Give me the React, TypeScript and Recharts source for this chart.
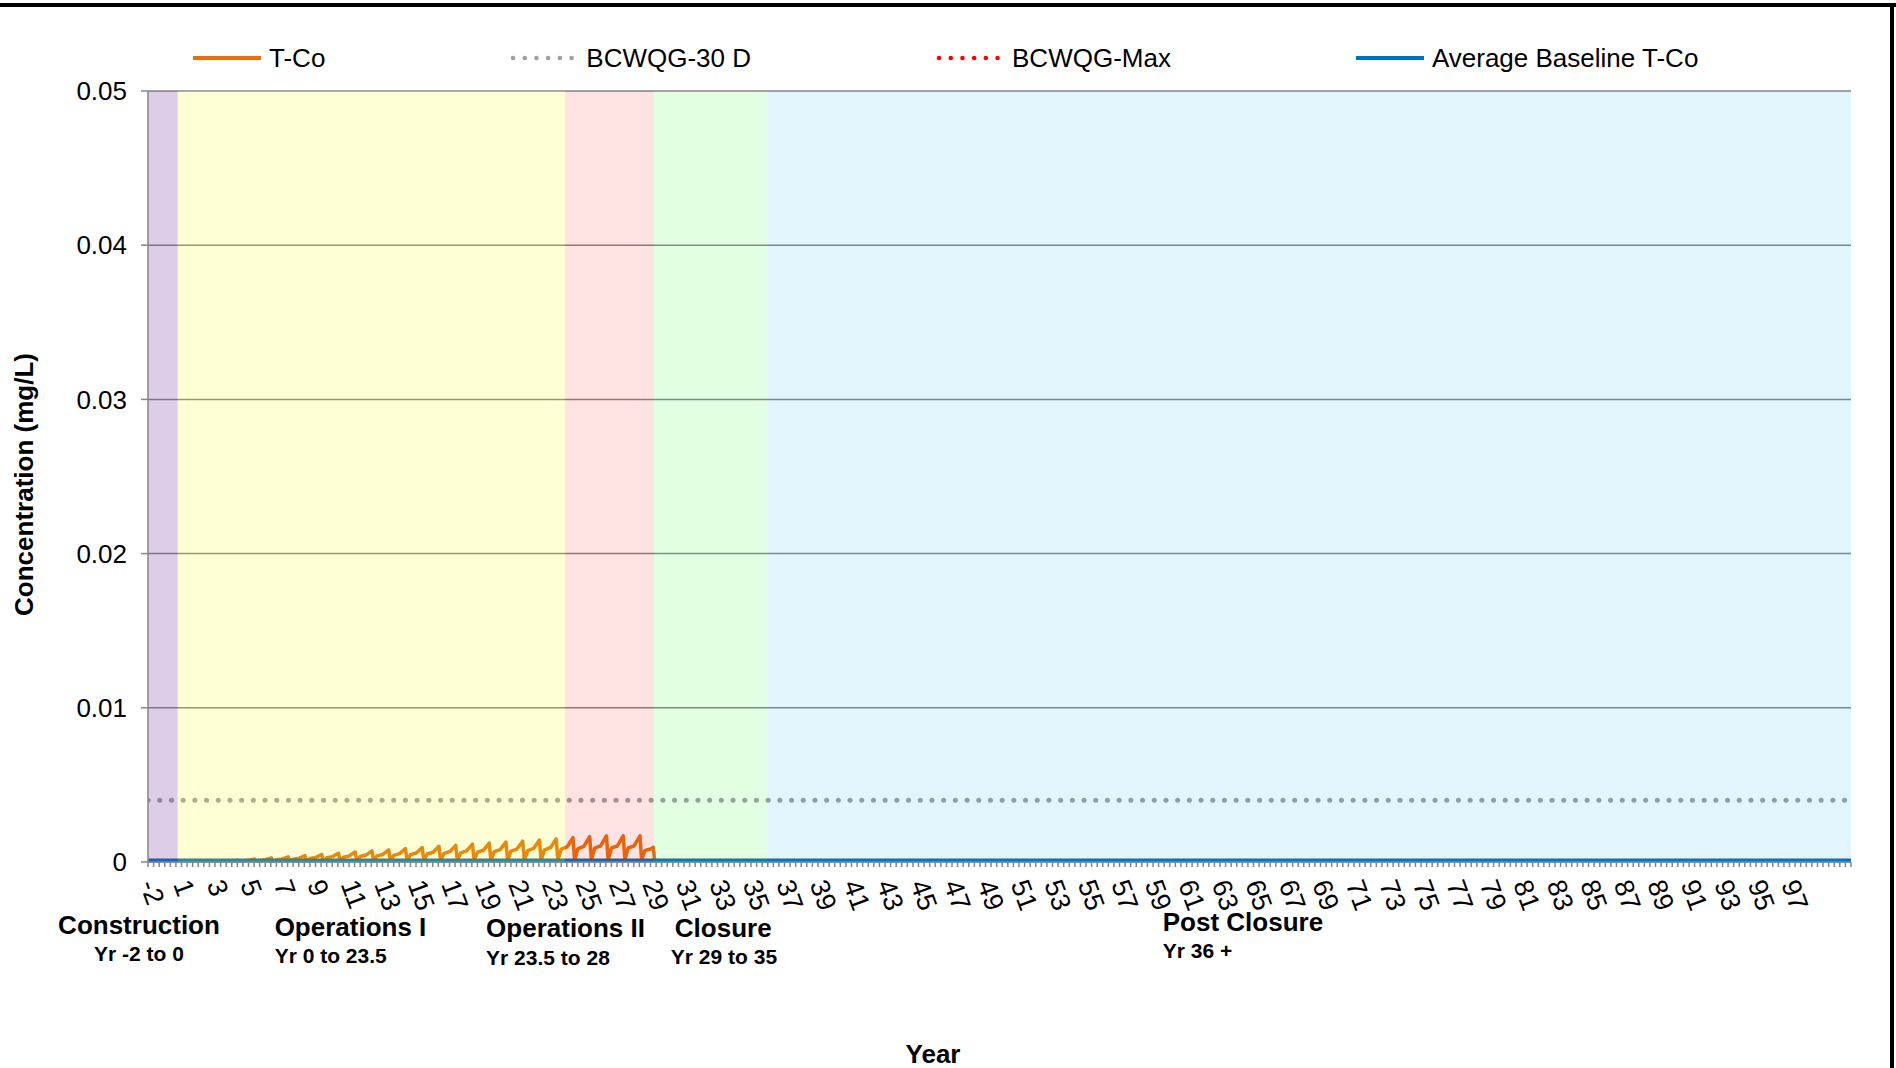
import React from 'react';
import { LineChart, Line, XAxis, YAxis, CartesianGrid, ReferenceArea, Legend } from 'recharts';

const FONT = '"Liberation Sans", Arial, Helvetica, sans-serif';

// ---------------- data ----------------
// x position = years counted from the start of "Yr -2" (the category axis has no year 0)
const xAxisEnd = 101.67;
const yearTickLabels = ['-2', '1', '3', '5', '7', '9', '11', '13', '15', '17', '19', '21', '23', '25', '27', '29', '31', '33', '35', '37', '39', '41', '43', '45', '47', '49', '51', '53', '55', '57', '59', '61', '63', '65', '67', '69', '71', '73', '75', '77', '79', '81', '83', '85', '87', '89', '91', '93', '95', '97'];
const yTicks = [0, 0.01, 0.02, 0.03, 0.04, 0.05];

// T-Co: one seasonal cycle per year (peak, trough, shoulder, plateau)
const cycleYears = [0, 1, 2, 3, 4, 5, 6, 7, 8, 9, 10, 11, 12, 13, 14, 15, 16, 17, 18, 19, 20, 21, 22, 23, 24, 25, 26, 27, 28, 29];
const cycleSampleOffsets = [0.37, 0.47, 0.67, 1.02];
const tcoPeak = [0.00001, 0.00002, 0.00003, 0.00005, 0.00008, 0.00012, 0.00019, 0.00026, 0.00033, 0.00041, 0.00049, 0.00057, 0.00065, 0.00072, 0.00079, 0.00087, 0.00094, 0.00102, 0.00108, 0.00116, 0.00122, 0.00129, 0.00135, 0.00142, 0.0015, 0.00158, 0.00164, 0.00169, 0.0017, 0.0017];
const tcoTrough = [0.00001, 0.00001, 0.00001, 0.00001, 0.00001, 0.00001, 0.00002, 0.00002, 0.00003, 0.00003, 0.00004, 0.00005, 0.00005, 0.00006, 0.00006, 0.00007, 0.00008, 0.00008, 0.00009, 0.00009, 0.0001, 0.0001, 0.00011, 0.00011, 0.00012, 0.00013, 0.00013, 0.00013, 0.00013, 0.00013];
const tcoShoulder = [0.00001, 0.00001, 0.00002, 0.00003, 0.00004, 0.00007, 0.0001, 0.00014, 0.00018, 0.00023, 0.00027, 0.00031, 0.00036, 0.0004, 0.00043, 0.00048, 0.00052, 0.00056, 0.00059, 0.00064, 0.00067, 0.00071, 0.00074, 0.00078, 0.00083, 0.00087, 0.0009, 0.00092, 0.00092, 0.00075];
const tcoPlateau = [0.00001, 0.00002, 0.00003, 0.00005, 0.00007, 0.00012, 0.00016, 0.0002, 0.00025, 0.0003, 0.00035, 0.0004, 0.00045, 0.00049, 0.00054, 0.00058, 0.00063, 0.00067, 0.00072, 0.00076, 0.0008, 0.00084, 0.00088, 0.00093, 0.00098, 0.00101, 0.00104, 0.00104, 0.00104, 0.00085];
const tcoStart = [{ year: 0, tco: 0.00001 }];
const tcoTail = [
  { year: 30.17, tco: 0.00095 },
  { year: 30.25, tco: 0.00006 },
  { year: 101.67, tco: 0.00006 },
];

const bcwqg30dValue = 0.004;
const bcwqgMaxValue = 0.11;
const avgBaselineValue = 0.00005;

const phases = [
  { key: 'construction', title: 'Construction', sub: 'Yr -2 to 0', start: 0, end: 1.77 },
  { key: 'ops1', title: 'Operations I', sub: 'Yr 0 to 23.5', start: 1.77, end: 24.9 },
  { key: 'ops2', title: 'Operations II', sub: 'Yr 23.5 to 28', start: 24.9, end: 30.2 },
  { key: 'closure', title: 'Closure', sub: 'Yr 29 to 35', start: 30.2, end: 37.0 },
  { key: 'post', title: 'Post Closure', sub: 'Yr 36 +', start: 37.0, end: 101.67 },
];

// ---------------- tables built from the arrays ----------------
const tcoRows: { year: number; tco: number }[] = [...tcoStart];
cycleYears.forEach((c, i) => {
  const vals = [tcoPeak[i], tcoTrough[i], tcoShoulder[i], tcoPlateau[i]];
  cycleSampleOffsets.forEach((o, k) => tcoRows.push({ year: +(c + o).toFixed(2), tco: vals[k] }));
});
tcoTail.forEach((r) => tcoRows.push(r));

const bcwqg30dRows = [{ year: 0, bcwqg30d: bcwqg30dValue }, { year: xAxisEnd, bcwqg30d: bcwqg30dValue }];
const bcwqgMaxRows = [{ year: 0, bcwqgMax: bcwqgMaxValue }, { year: xAxisEnd, bcwqgMax: bcwqgMaxValue }];
const avgRows = [{ year: 0, avg: avgBaselineValue }, { year: xAxisEnd, avg: avgBaselineValue }];

// ---------------- styles ----------------
const series = [
  { key: 'tco', name: 'T-Co', rows: tcoRows, color: '#E8700C', width: 3.5, dash: undefined as string | undefined },
  { key: 'bcwqg30d', name: 'BCWQG-30 D', rows: bcwqg30dRows, color: '#A0A0A0', width: 5, dash: '0.1 11.6' },
  { key: 'bcwqgMax', name: 'BCWQG-Max', rows: bcwqgMaxRows, color: '#FF0000', width: 4.5, dash: '0.1 11.6' },
  { key: 'avg', name: 'Average Baseline T-Co', rows: avgRows, color: '#0070C0', width: 5.5, dash: undefined as string | undefined },
];

const phaseStyle: Record<string, any> = {
  construction: { fill: '#7030A0', opacity: 0.24, anchor: 'middle', tdx: -9, tdy: 63, sdx: -9, sdy: 91 },
  ops1: { fill: '#FFFF00', opacity: 0.16, anchor: 'start', tdx: 97, tdy: 65, sdx: 97, sdy: 93 },
  ops2: { fill: '#FF0000', opacity: 0.11, anchor: 'start', tdx: -79, tdy: 66, sdx: -79, sdy: 95 },
  closure: { fill: '#00FF00', opacity: 0.11, anchor: 'start', tdx: 21, tdy: 66, sdx: 17, sdy: 94 },
  post: { fill: '#00A0E6', opacity: 0.11, anchor: 'start', tdx: 395, tdy: 60, sdx: 395, sdy: 88 },
};

const minorTicks = Array.from({ length: 306 }, (_, i) => +(i / 3).toFixed(3));

const XTick = (props: any) => {
  const { x, y, payload } = props;
  const t = payload.value;
  const j = Math.round(t / 2);
  if (Math.abs(t - j * 2) > 0.01 || j >= yearTickLabels.length) return null;
  const ay = y + 12;
  return (
    <text
      x={x}
      y={ay}
      transform={`rotate(70, ${x}, ${ay})`}
      textAnchor="start"
      dominantBaseline="central"
      fontSize={27}
      fontFamily={FONT}
      fill="#000"
    >
      {yearTickLabels[j]}
    </text>
  );
};

const renderPhaseLabel = (p: any) => (props: any) => {
  const vb = props.viewBox || { x: 0, y: 0, width: 0, height: 0 };
  const st = phaseStyle[p.key];
  const bottom = vb.y + vb.height;
  return (
    <g>
      <text x={vb.x + st.tdx} y={bottom + st.tdy} textAnchor={st.anchor} dominantBaseline="central" fontSize={26} fontWeight="bold" fontFamily={FONT} fill="#000">
        {p.title}
      </text>
      <text x={vb.x + st.sdx} y={bottom + st.sdy} textAnchor={st.anchor} dominantBaseline="central" fontSize={21} fontWeight="bold" fontFamily={FONT} fill="#000">
        {p.sub}
      </text>
    </g>
  );
};

const renderXTitle = (props: any) => {
  const vb = props.viewBox || { x: 148, y: 862, width: 1703, height: 206 };
  return (
    <text x={vb.x + 785} y={vb.y + 192} textAnchor="middle" dominantBaseline="central" fontSize={26} fontWeight="bold" fontFamily={FONT} fill="#000">
      Year
    </text>
  );
};

const renderYTitle = (props: any) => {
  const vb = props.viewBox || { x: 0, y: 91, width: 148, height: 771 };
  const cx = vb.x + 24;
  const cy = vb.y + vb.height / 2 + 8;
  return (
    <text x={cx} y={cy} transform={`rotate(-90, ${cx}, ${cy})`} textAnchor="middle" dominantBaseline="central" fontSize={26} fontWeight="bold" fontFamily={FONT} fill="#000">
      Concentration (mg/L)
    </text>
  );
};

const renderLegend = () => (
  <div style={{ display: 'flex', alignItems: 'center', paddingLeft: 193, height: 36, fontFamily: FONT, fontSize: 26, color: '#000', whiteSpace: 'nowrap' }}>
    {series.map((s) => (
      <div key={s.key} style={{ display: 'flex', alignItems: 'center', marginRight: 185 }}>
        <svg width={68} height={12} style={{ display: 'block' }}>
          <line
            x1={s.dash ? 3 : 0}
            x2={s.dash ? 66 : 68}
            y1={6}
            y2={6}
            stroke={s.color}
            strokeWidth={s.dash ? 4.5 : 4}
            strokeDasharray={s.dash}
            strokeLinecap={s.dash ? 'round' : 'butt'}
          />
        </svg>
        <span style={{ marginLeft: 8 }}>{s.name}</span>
      </div>
    ))}
  </div>
);

export default function App() {
  return (
    <div style={{ position: 'absolute', left: 0, top: 0, width: 1896, height: 1068, background: '#fff', overflow: 'hidden' }}>
      <LineChart width={1896} height={1068} margin={{ top: 91, right: 45, bottom: 0, left: 0 }}>
        <CartesianGrid horizontal vertical={false} stroke="#868686" strokeWidth={1.5} />
        <XAxis
          type="number"
          dataKey="year"
          domain={[0, xAxisEnd]}
          ticks={minorTicks}
          interval={0}
          height={206}
          tick={<XTick />}
          tickSize={5}
          tickLine={{ stroke: '#868686', strokeWidth: 1.5 }}
          axisLine={{ stroke: '#868686', strokeWidth: 1.5 }}
          allowDataOverflow
          label={renderXTitle}
        />
        <YAxis
          type="number"
          width={148}
          domain={[0, 0.05]}
          ticks={yTicks}
          interval={0}
          allowDataOverflow
          tickFormatter={(v: number) => (v === 0 ? '0' : v.toFixed(2))}
          tick={{ fontSize: 26, fill: '#000', fontFamily: FONT }}
          tickSize={7}
          tickMargin={14}
          tickLine={{ stroke: '#868686', strokeWidth: 1.5 }}
          axisLine={{ stroke: '#868686', strokeWidth: 1.5 }}
          label={renderYTitle}
        />
        {series.map((s) => (
          <Line
            key={s.key}
            data={s.rows}
            dataKey={s.key}
            name={s.name}
            type="linear"
            stroke={s.color}
            strokeWidth={s.width}
            strokeDasharray={s.dash}
            strokeLinecap={s.dash ? 'round' : 'butt'}
            strokeLinejoin="round"
            dot={false}
            activeDot={false}
            isAnimationActive={false}
          />
        ))}
        {phases.map((p) => (
          <ReferenceArea
            key={p.key}
            x1={p.start}
            x2={p.end}
            fill={phaseStyle[p.key].fill}
            fillOpacity={phaseStyle[p.key].opacity}
            stroke="none"
            zIndex={450}
            label={renderPhaseLabel(p)}
          />
        ))}
        <Legend
          verticalAlign="middle"
          align="center"
          layout="horizontal"
          wrapperStyle={{ top: 40, left: 0, width: 1896, height: 36 }}
          content={renderLegend}
        />
      </LineChart>
      <div style={{ position: 'absolute', left: 0, top: 3, width: 1896, height: 4, background: '#000' }} />
      <div style={{ position: 'absolute', left: 1890, top: 3, width: 4, height: 1065, background: '#000' }} />
    </div>
  );
}
